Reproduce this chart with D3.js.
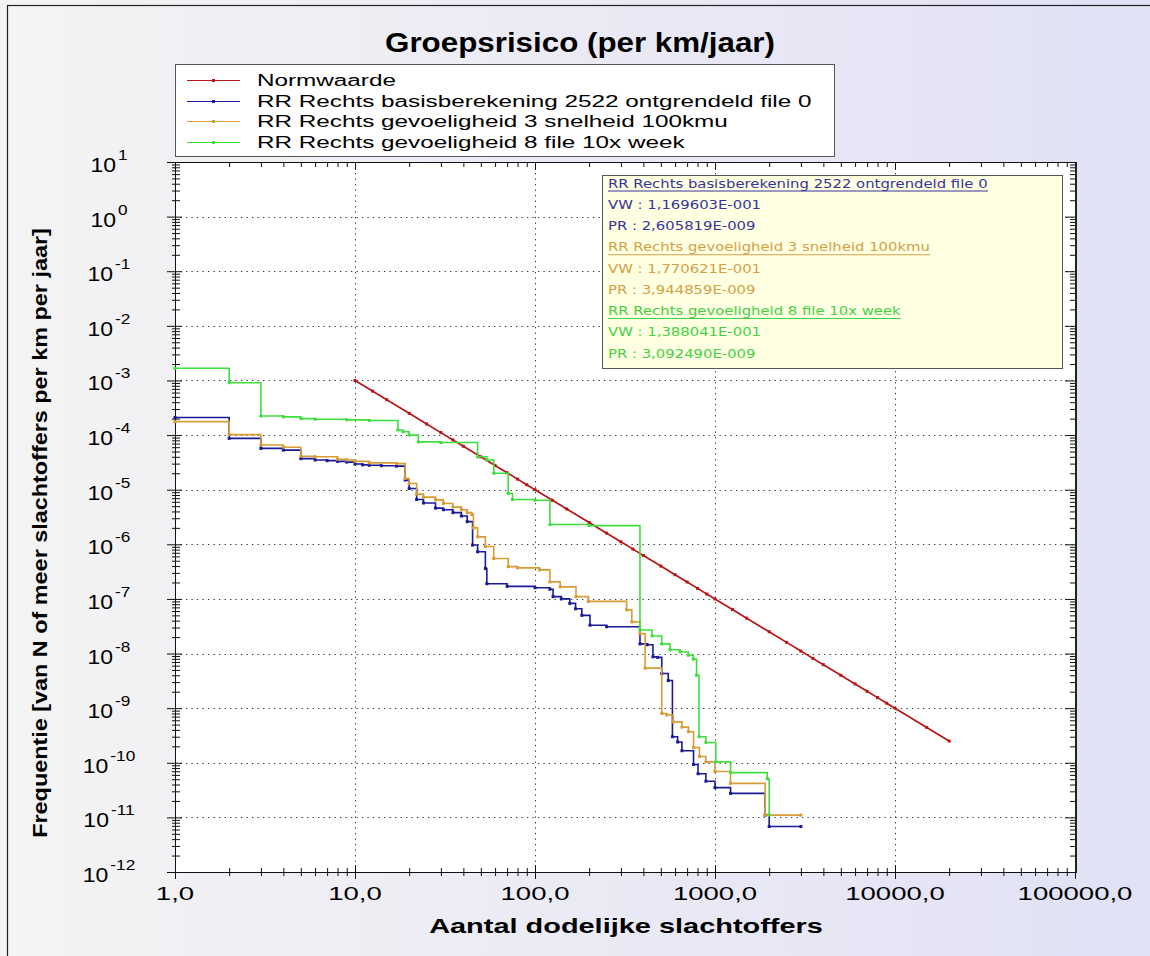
<!DOCTYPE html>
<html><head><meta charset="utf-8">
<script src="https://cdn.jsdelivr.net/npm/d3@7"></script>
<style>html,body{margin:0;padding:0;overflow:hidden;background:#fff}</style>
</head><body><svg id="c" width="1150" height="956"></svg>
<script>
// ---------------- DATA ----------------
const chartTitle = "Groepsrisico (per km/jaar)";
const xTitle = "Aantal dodelijke slachtoffers";
const yTitle = "Frequentie [van N of meer slachtoffers per km per jaar]";
const seriesNames = [
  "Normwaarde",
  "RR Rechts basisberekening 2522 ontgrendeld file 0",
  "RR Rechts gevoeligheid 3 snelheid 100kmu",
  "RR Rechts gevoeligheid 8 file 10x week"
];
const xTickValues = [1, 10, 100, 1000, 10000, 100000];
const xTickLabels = ["1,0", "10,0", "100,0", "1000,0", "10000,0", "100000,0"];
const yTickExponents = [1, 0, -1, -2, -3, -4, -5, -6, -7, -8, -9, -10, -11, -12];

const normN = [10,12.5,15,20,25,30,35,40,50,60,70,80,90,
               100,125,150,200,250,300,350,400,500,600,700,800,900,
               1000,1250,1500,2000,2500,3000,3500,4000,5000,6000,7000,8000,9000,
               10000,15000,20000];
const normF = [1e-3,6.4e-4,4.44e-4,2.5e-4,1.6e-4,1.11e-4,8.16e-5,6.25e-5,4e-5,2.78e-5,2.04e-5,1.56e-5,1.23e-5,
               1e-5,6.4e-6,4.44e-6,2.5e-6,1.6e-6,1.11e-6,8.16e-7,6.25e-7,4e-7,2.78e-7,2.04e-7,1.56e-7,1.23e-7,
               1e-7,6.4e-8,4.44e-8,2.5e-8,1.6e-8,1.11e-8,8.16e-9,6.25e-9,4e-9,2.78e-9,2.04e-9,1.56e-9,1.23e-9,
               1e-9,4.44e-10,2.5e-10];

const basisN = [1,2,3,4,5,6,7,8,9,10,11,12,14,17,19,20,22,24,28,31,35,39,42,45,48,53,54,70,100,121,126,140,156,168,182,202,250,383,420,452,480,506,550,580,620,655,760,805,890,1000,1220,1900,2000,3000];
const basisF = [2.1e-4,8.7e-5,5.7e-5,5.3e-5,3.7e-5,3.5e-5,3.4e-5,3.3e-5,3.2e-5,2.95e-5,2.85e-5,2.8e-5,2.75e-5,2.7e-5,1.5e-5,1.05e-5,6.6e-6,5.7e-6,4.6e-6,4.3e-6,3.8e-6,3.3e-6,2.6e-6,9.7e-7,7.3e-7,3.6e-7,1.9e-7,1.7e-7,1.6e-7,1.5e-7,1.1e-7,1.0e-7,8.3e-8,6.6e-8,5.0e-8,3.3e-8,3.1e-8,1.5e-8,1.45e-8,8.7e-9,8.5e-9,4.3e-9,3.2e-9,3.0e-10,2.4e-10,1.66e-10,9.3e-11,6.3e-11,4.6e-11,3.5e-11,2.75e-11,1.1e-11,6.8e-12,6.8e-12];

const snelN = [1,2,3,4,5,6,8,9,10,12,17,19,20,22,24,28,31,35,39,42,44.6,45.5,48,53,59,71,80,106,121,138,169,198,323,345,383,409,506,540,585,655,712,760,820,890,1000,1220,1900,3000];
const snelF = [1.76e-4,1.02e-4,6.6e-5,6.0e-5,4.1e-5,4.0e-5,3.6e-5,3.5e-5,3.3e-5,3.1e-5,3.0e-5,1.6e-5,1.3e-5,8.3e-6,7.3e-6,6.5e-6,5.6e-6,4.8e-6,4.3e-6,3.8e-6,3.5e-6,2.0e-6,1.37e-6,9.1e-7,5.5e-7,3.9e-7,3.7e-7,3.4e-7,2.05e-7,1.66e-7,1.1e-7,9.0e-8,6.3e-8,3.8e-8,2.3e-8,5.4e-9,8.0e-10,7.5e-10,5.6e-10,4.5e-10,3.7e-10,1.9e-10,1.3e-10,1.04e-10,6.9e-11,4.2e-11,1.1e-11,1.1e-11];

const fileN = [1,2,3,4,5,6,9,12,17.3,18.5,20,22.5,30,48,54,59,71,75,100,121,200,383,447,506,562,640,712,757,790,815,890,1010,1220,1950,2000];
const fileF = [1.67e-3,9.1e-4,2.23e-4,2.15e-4,2.0e-4,1.95e-4,1.9e-4,1.85e-4,1.24e-4,1.15e-4,1.0e-4,7.5e-5,7.3e-5,4.0e-5,3.5e-5,2.0e-5,8.5e-6,6.6e-6,6.4e-6,2.3e-6,2.2e-6,2.7e-8,2.1e-8,1.5e-8,1.17e-8,1.07e-8,9.3e-9,7.9e-9,4.0e-9,3.0e-10,2.35e-10,1.04e-10,6.6e-11,5.1e-11,1.1e-11];

const infoTitles = seriesNames.slice(1);
const infoVW = ["1,169603E-001", "1,770621E-001", "1,388041E-001"];
const infoPR = ["2,605819E-009", "3,944859E-009", "3,092490E-009"];

// ---------------- STYLE ----------------
const lineColors = ["#b81616", "#1a1a98", "#d89b35", "#3ede3e"];
const textColors = ["#b81616", "#35359e", "#d3a04a", "#45d045"];
const FONT = "'Liberation Sans', Arial, sans-serif";
const NARROW = "'Liberation Sans Narrow', 'Liberation Sans', Arial, sans-serif";

const svg = d3.select('#c');
const W = 1150, H = 956;
const defs = svg.append('defs');
const grad = defs.append('linearGradient').attr('id', 'bg').attr('x1', 0).attr('x2', 1).attr('y1', 0).attr('y2', 0);
grad.append('stop').attr('offset', '0%').attr('stop-color', '#f4f4f4');
grad.append('stop').attr('offset', '100%').attr('stop-color', '#e1e1f6');
svg.append('rect').attr('width', W).attr('height', H).attr('fill', 'url(#bg)');
svg.append('rect').attr('x', 7.5).attr('y', 5.5).attr('width', 1200).attr('height', 1000)
  .attr('fill', 'none').attr('stroke', '#222').attr('stroke-width', 1.2);

const M = {l: 175, r: 1075, t: 162, b: 872};
const x = d3.scaleLog().domain([1, 1e5]).range([M.l, M.r]);
const y = d3.scaleLog().domain([1e-12, 1e1]).range([M.b, M.t]);

function stext(parent, px, py, str, o) {
  const g = parent.append('g').attr('transform', `translate(${px},${py})${o.rotate ? ` rotate(${o.rotate})` : ''}`);
  const t = g.append('text').text(str)
    .attr('font-family', o.family || FONT).attr('font-size', o.size)
    .attr('font-weight', o.weight || 'normal').attr('fill', o.fill || '#000')
    .attr('text-anchor', o.anchor || 'start');
  const len = t.node().getComputedTextLength();
  const sx = o.width ? o.width / len : (o.sx || 1);
  t.attr('transform', `scale(${sx},1)`);
  return {g, t, len: len * sx, sx};
}

// plot background
svg.append('rect').attr('x', M.l).attr('y', M.t).attr('width', M.r - M.l).attr('height', M.b - M.t).attr('fill', '#fff');

// grid
const xMajor = xTickValues;
const yMajor = yTickExponents.map(e => Math.pow(10, e));
const grid = svg.append('g').attr('stroke', '#333').attr('stroke-width', 1).attr('stroke-dasharray', '1.3,4.2');
grid.selectAll('.gx').data(xMajor.slice(1, -1)).join('line')
  .attr('x1', d => Math.round(x(d)) + 0.5).attr('x2', d => Math.round(x(d)) + 0.5).attr('y1', M.t).attr('y2', M.b);
grid.selectAll('.gy').data(yMajor.slice(1, -1)).join('line').attr('class', 'gy')
  .attr('y1', d => Math.round(y(d)) + 0.5).attr('y2', d => Math.round(y(d)) + 0.5).attr('x1', M.l).attr('x2', M.r);

// ticks (through d3 axes)
const xMinor = [];
for (let d = 0; d < 5; d++) for (let k = 2; k <= 9; k++) xMinor.push(k * Math.pow(10, d));
const yMinor = [];
for (let e = -12; e < 1; e++) for (let k = 2; k <= 9; k++) yMinor.push(k * Math.pow(10, e));
function tickAxis(axis, vals, size, tx, ty) {
  const g = svg.append('g').attr('transform', `translate(${tx},${ty})`)
    .call(axis.tickValues(vals).tickSize(size).tickFormat(''));
  g.select('.domain').remove();
  g.selectAll('line').attr('stroke', '#111');
  return g;
}
tickAxis(d3.axisBottom(x), xMinor, 4, 0, M.b);
tickAxis(d3.axisTop(x), xMinor, 4, 0, M.b);
tickAxis(d3.axisBottom(x), xMajor, 7, 0, M.b);
tickAxis(d3.axisTop(x), xMajor, 7, 0, M.b);
tickAxis(d3.axisBottom(x), xMinor, 5, 0, M.t);
tickAxis(d3.axisBottom(x), xMajor, 8, 0, M.t);
tickAxis(d3.axisLeft(y), yMinor, 3, M.l, 0);
tickAxis(d3.axisRight(y), yMinor, 5, M.l, 0);
tickAxis(d3.axisLeft(y), yMajor, 8, M.l, 0);
tickAxis(d3.axisRight(y), yMajor, 7, M.l, 0);
tickAxis(d3.axisLeft(y), yMinor, 5, M.r, 0);
tickAxis(d3.axisLeft(y), yMajor, 10, M.r, 0);

// frame
svg.append('rect').attr('x', M.l + 0.5).attr('y', M.t + 0.5).attr('width', M.r - M.l).attr('height', M.b - M.t)
  .attr('fill', 'none').attr('stroke', '#111').attr('stroke-width', 1);
svg.append('line').attr('x1', M.r + 1).attr('x2', M.r + 1).attr('y1', M.t).attr('y2', M.b + 1)
  .attr('stroke', '#222').attr('stroke-width', 2);

// series
const seriesData = [
  d3.zip(normN, normF),
  d3.zip(basisN, basisF),
  d3.zip(snelN, snelF),
  d3.zip(fileN, fileF)
];
const plotG = svg.append('g');
seriesData.forEach((pts, i) => {
  const line = d3.line().x(d => x(d[0])).y(d => y(d[1]));
  if (i > 0) line.curve(d3.curveStepAfter);
  plotG.append('path').attr('d', line(pts)).attr('fill', 'none')
    .attr('stroke', lineColors[i]).attr('stroke-width', i === 0 ? 1.7 : 1.6);
  const ms = 3;
  plotG.selectAll(null).data(pts).join('rect')
    .attr('x', d => x(d[0]) - ms / 2).attr('y', d => y(d[1]) - ms / 2)
    .attr('width', ms).attr('height', ms).attr('fill', lineColors[i]);
});

// axis labels
xTickValues.forEach((v, i) => {
  stext(svg, x(v), 900, xTickLabels[i], {size: 19, sx: 1.45, anchor: 'middle'});
});
yTickExponents.forEach(e => {
  const ty = y(Math.pow(10, e));
  const b = stext(svg, 0, 0, '10', {size: 20, sx: 1.15});
  const ex = stext(svg, 0, 0, String(e), {size: 15, sx: 1.15});
  const total = b.len + 2 + ex.len;
  const start = 109 - total / 2;
  b.g.attr('transform', `translate(${start},${ty + 10})`);
  ex.g.attr('transform', `translate(${start + b.len + 2},${ty - 2})`);
});

// titles
stext(svg, 580, 52, chartTitle, {size: 27, weight: 'bold', family: NARROW, width: 390, anchor: 'middle'});
stext(svg, 626, 933, xTitle, {size: 21, weight: 'bold', family: NARROW, width: 394, anchor: 'middle'});
stext(svg, 47, 533, yTitle, {size: 21, weight: 'bold', family: NARROW, width: 610, anchor: 'middle', rotate: -90});

// legend
const leg = svg.append('g');
leg.append('rect').attr('x', 175.5).attr('y', 64.5).attr('width', 659).attr('height', 92)
  .attr('fill', '#fff').attr('stroke', '#555');
const legRowY = [80, 101, 121, 142];
const probe = stext(leg, 0, -100, seriesNames[3], {size: 16});
const legSx = 428 / probe.len;
probe.g.remove();
seriesNames.forEach((n, i) => {
  const cy = legRowY[i];
  leg.append('line').attr('x1', 187).attr('x2', 240).attr('y1', cy + 0.5).attr('y2', cy + 0.5)
    .attr('stroke', lineColors[i]).attr('stroke-width', 1.2);
  leg.append('rect').attr('x', 212).attr('y', cy - 1).attr('width', 3).attr('height', 3).attr('fill', lineColors[i]);
  stext(leg, 257, cy + 6, n, {size: 16, sx: legSx});
});

// info box
const info = svg.append('g');
info.append('rect').attr('x', 602.5).attr('y', 175.5).attr('width', 460).attr('height', 193)
  .attr('fill', '#ffffe1').attr('stroke', '#555');
const IF = "'DejaVu Sans', Verdana, sans-serif";
const p2 = stext(info, 0, -100, infoTitles[0], {size: 12, family: IF});
const infoSx = 380 / p2.len;
p2.g.remove();
let row = 0;
infoTitles.forEach((t, i) => {
  const col = textColors[i + 1];
  const by = 187.5 + row * 21.25;
  const h = stext(info, 608, by, t, {size: 12, family: IF, sx: infoSx, fill: col});
  info.append('line').attr('x1', 608).attr('x2', 608 + h.len).attr('y1', by + 3.5).attr('y2', by + 3.5)
    .attr('stroke', col).attr('stroke-width', 1);
  row++;
  stext(info, 608, 187.5 + row * 21.25, 'VW : ' + infoVW[i], {size: 12, family: IF, sx: infoSx, fill: col});
  row++;
  stext(info, 608, 187.5 + row * 21.25, 'PR : ' + infoPR[i], {size: 12, family: IF, sx: infoSx, fill: col});
  row++;
});
</script></body></html>
